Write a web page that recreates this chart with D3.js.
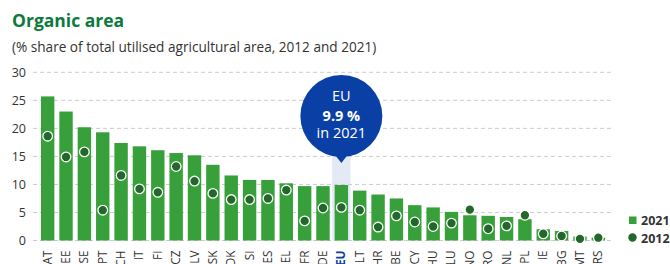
<!DOCTYPE html>
<html>
<head>
<meta charset="utf-8">
<script src="https://cdn.jsdelivr.net/npm/d3@7"></script>
<style>
  body { margin: 0; background: #fff; }
  svg { display: block; font-family: "Open Sans", sans-serif; }
</style>
</head>
<body>
<div id="chart"></div>
<script>
// Data
const countries = ["AT", "EE", "SE", "PT", "CH", "IT", "FI", "CZ", "LV", "SK", "DK", "SI", "ES", "EL", "FR", "DE", "EU", "LT", "HR", "BE", "CY", "HU", "LU", "NO", "RO", "NL", "PL", "IE", "BG", "MT", "RS"];
const values2021 = [25.7, 23.0, 20.2, 19.3, 17.4, 16.8, 16.1, 15.6, 15.2, 13.5, 11.6, 10.8, 10.8, 10.2, 9.7, 9.7, 9.9, 8.9, 8.2, 7.5, 6.3, 5.9, 5.1, 4.5, 4.4, 4.2, 3.8, 2.0, 1.7, 0.7, 0.5];
const values2012 = [18.6, 14.9, 15.8, 5.4, 11.6, 9.2, 8.6, 13.2, 10.6, 8.4, 7.3, 7.3, 7.5, 9.0, 3.5, 5.8, 5.9, 5.4, 2.4, 4.4, 3.3, 2.5, 3.1, 5.5, 2.1, 2.6, 4.5, 1.2, 0.8, 0.3, 0.5];
const yTicks = [0, 5, 10, 15, 20, 25, 30];
const legendItems = ["2021", "2012"];

// Configuration
const width = 670;
const height = 264;
const barColor = "#38a03a";
const dotColor = "#21682a";
const euBlue = "#0a3fa6";

const data = countries.map((c, i) => ({ country: c, v2021: values2021[i], v2012: values2012[i] }));

const svg = d3.select("#chart")
    .append("svg")
    .attr("width", width)
    .attr("height", height);

// Scales
const x = d3.scaleBand()
    .domain(countries)
    .range([38.5, 607.5])
    .paddingInner(0.27)
    .paddingOuter(0.135);

const y = d3.scaleLinear()
    .domain([0, 30])
    .range([240.5, 72.3]);

// Title
svg.append("text")
    .attr("x", 12)
    .attr("y", 27)
    .style("font-size", "17.5px")
    .style("font-weight", "700")
    .style("fill", "#0b7a3b")
    .text("Organic area");

svg.append("text")
    .attr("x", 12)
    .attr("y", 52)
    .style("font-size", "13.6px")
    .style("fill", "#333")
    .text("(% share of total utilised agricultural area, 2012 and 2021)");

// EU highlight band
svg.append("rect")
    .attr("x", x("EU") - x.step() * 0.135)
    .attr("width", x.bandwidth() + x.step() * 0.27)
    .attr("y", 155)
    .attr("height", y(0) - 155)
    .attr("fill", "#e4e9f6");

// Grid lines
svg.append("g")
    .selectAll("line")
    .data(yTicks)
    .join("line")
    .attr("x1", 33)
    .attr("x2", 611)
    .attr("y1", d => y(d))
    .attr("y2", d => y(d))
    .attr("stroke", "#cccccc")
    .attr("stroke-width", 1)
    .attr("stroke-dasharray", "4,3");

// Y axis labels
svg.append("g")
    .selectAll("text")
    .data(yTicks)
    .join("text")
    .attr("x", 26)
    .attr("y", d => y(d))
    .attr("dy", "0.35em")
    .attr("text-anchor", "end")
    .style("font-size", "12.5px")
    .style("fill", "#333")
    .text(d => d);

// Bars (2021)
svg.append("g")
    .selectAll("rect")
    .data(data)
    .join("rect")
    .attr("x", d => x(d.country))
    .attr("width", x.bandwidth())
    .attr("y", d => y(d.v2021))
    .attr("height", d => y(0) - y(d.v2021))
    .attr("fill", barColor);

// Dots (2012)
svg.append("g")
    .selectAll("circle")
    .data(data)
    .join("circle")
    .attr("cx", d => x(d.country) + x.bandwidth() / 2)
    .attr("cy", d => y(d.v2012))
    .attr("r", 4.8)
    .attr("fill", dotColor)
    .attr("stroke", "#fff")
    .attr("stroke-width", 1.3);

// X labels (rotated, running off the bottom edge like the original)
svg.append("g")
    .selectAll("text")
    .data(data)
    .join("text")
    .attr("transform", d => `translate(${x(d.country) + x.bandwidth() / 2 + 4}, 250.5) rotate(-90)`)
    .attr("text-anchor", "end")
    .style("font-size", "11.8px")
    .style("font-weight", d => d.country === "EU" ? "700" : "400")
    .style("fill", d => d.country === "EU" ? euBlue : "#333")
    .text(d => d.country);

// EU callout bubble
const euX = x("EU") + x.bandwidth() / 2;
const bubble = svg.append("g").attr("transform", `translate(${euX}, 116)`);
bubble.append("circle")
    .attr("r", 41)
    .attr("fill", euBlue);
bubble.append("path")
    .attr("d", "M-7,38 L0,47 L7,38 Z")
    .attr("fill", euBlue);
const euIdx = countries.indexOf("EU");
bubble.append("text")
    .attr("y", -15)
    .attr("text-anchor", "middle")
    .style("font-size", "14.5px")
    .style("fill", "#fff")
    .text("EU");
bubble.append("text")
    .attr("y", 5)
    .attr("text-anchor", "middle")
    .style("font-size", "14.5px")
    .style("font-weight", "700")
    .style("fill", "#fff")
    .text(`${values2021[euIdx]} %`);
bubble.append("text")
    .attr("y", 22)
    .attr("text-anchor", "middle")
    .style("font-size", "14.5px")
    .style("fill", "#fff")
    .text("in 2021");

// Legend
const legend = svg.append("g");
legend.append("rect")
    .attr("x", 629)
    .attr("y", 216.5)
    .attr("width", 7.5)
    .attr("height", 7.5)
    .attr("fill", barColor);
legend.append("circle")
    .attr("cx", 632.5)
    .attr("cy", 237.5)
    .attr("r", 4.2)
    .attr("fill", dotColor);
legend.selectAll("text")
    .data(legendItems)
    .join("text")
    .attr("x", 641)
    .attr("y", (d, i) => 225 + i * 17.5)
    .style("font-size", "12.5px")
    .style("font-weight", "700")
    .style("fill", "#333")
    .text(d => d);
</script>
</body>
</html>
